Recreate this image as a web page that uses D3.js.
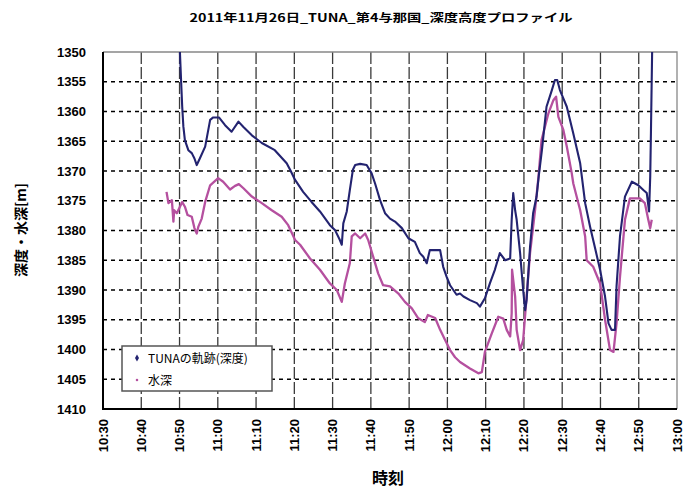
<!DOCTYPE html>
<html>
<head>
<meta charset="utf-8">
<script src="https://cdn.jsdelivr.net/npm/d3@7"></script>
<style>
  body { margin: 0; background: #fff; }
  text { font-family: "Liberation Sans", Arial, sans-serif; }
  .jp { font-family: "Noto Sans CJK JP", sans-serif; }
</style>
</head>
<body>
<svg width="686" height="489"></svg>
<script>
// time = minutes since 0:00, depth in m
const tunaTrack = [
  [650.1,1350.0],[650.4,1354.7],[650.7,1359.2],[651.0,1362.5],[651.4,1364.8],[652.3,1366.5],
  [653.2,1367.0],[653.9,1367.9],[654.5,1369.0],[655.3,1367.9],[656.7,1365.9],[658.0,1361.4],
  [658.8,1361.0],[660.3,1361.0],[661.9,1362.3],[663.6,1363.4],[665.4,1361.7],[666.7,1362.6],
  [668.9,1364.0],[671.5,1365.3],[674.9,1366.5],[678.0,1368.7],[678.9,1369.8],[680.2,1371.5],
  [682.3,1373.5],[684.5,1375.2],[686.7,1376.8],[689.3,1379.1],[690.6,1379.9],[691.9,1381.6],
  [692.4,1382.4],[692.8,1378.8],[693.7,1376.8],[694.5,1373.2],[695.3,1369.8],[695.9,1369.0],
  [697.2,1368.8],[698.9,1369.0],[700.2,1370.4],[701.1,1372.1],[702.4,1374.9],[703.7,1377.1],
  [705.0,1378.0],[706.3,1378.5],[708.1,1379.6],[709.8,1381.3],[711.5,1381.9],[712.8,1383.8],
  [713.7,1384.4],[714.6,1385.5],[715.4,1383.3],[716.8,1383.3],[718.1,1383.3],[718.9,1386.1],
  [719.8,1387.8],[720.7,1389.2],[722.4,1390.8],[723.3,1390.6],[724.2,1391.1],[725.9,1391.7],
  [727.7,1392.2],[728.5,1392.8],[729.8,1391.4],[731.1,1388.9],[732.4,1386.6],[733.7,1383.8],
  [735.1,1385.0],[736.4,1384.7],[736.8,1378.2],[737.2,1373.7],[737.7,1376.6],[738.1,1378.2],
  [739.0,1383.8],[739.8,1390.0],[740.3,1393.4],[740.7,1391.7],[741.6,1382.7],[742.4,1377.1],
  [743.3,1374.3],[743.9,1370.7],[744.7,1366.5],[745.9,1359.2],[747.3,1356.4],[748.1,1354.7],
  [748.7,1354.7],[749.4,1356.4],[751.2,1359.2],[752.9,1363.7],[754.7,1368.7],[756.0,1375.4],
  [757.3,1379.4],[758.6,1383.0],[759.9,1386.6],[761.2,1391.1],[762.1,1395.6],[762.9,1396.7],
  [763.8,1396.7],[764.2,1389.4],[765.1,1381.0],[766.4,1374.3],[768.2,1371.8],[769.9,1372.4],
  [771.2,1373.2],[772.1,1373.7],[772.7,1376.8],[773.0,1371.0],[773.2,1363.1],[773.5,1350.0]
];

const seaDepth = [
  [646.6,1373.5],[647.1,1375.4],[648.0,1374.9],[648.4,1378.5],[648.6,1376.6],[649.3,1377.1],
  [650.1,1376.0],[650.7,1375.2],[651.4,1376.0],[652.1,1377.4],[653.2,1377.7],[653.9,1379.6],
  [654.5,1380.5],[654.9,1379.4],[655.8,1378.0],[656.7,1375.2],[658.0,1372.4],[660.1,1371.2],
  [661.4,1371.8],[663.2,1373.1],[664.5,1372.5],[665.5,1372.2],[666.7,1372.9],[668.9,1374.3],
  [671.5,1375.4],[674.1,1376.6],[676.7,1377.7],[678.4,1379.1],[680.2,1381.6],[681.5,1382.4],
  [684.1,1384.7],[686.7,1386.6],[689.3,1388.9],[691.1,1390.0],[692.4,1392.0],[693.2,1388.9],
  [694.5,1385.5],[695.0,1381.0],[695.9,1380.5],[697.2,1381.3],[698.5,1380.5],[699.3,1381.6],
  [700.6,1384.4],[701.9,1387.2],[703.2,1389.2],[705.0,1389.4],[707.2,1390.6],[708.9,1392.0],
  [710.7,1393.1],[712.3,1394.7],[714.1,1395.4],[714.9,1394.2],[716.8,1394.7],[718.1,1396.7],
  [719.4,1398.4],[720.7,1400.1],[722.0,1401.3],[723.3,1402.1],[725.9,1403.2],[728.1,1404.0],
  [729.0,1403.8],[729.8,1400.4],[731.6,1397.3],[733.3,1394.5],[734.6,1394.8],[735.5,1396.7],
  [736.4,1397.8],[736.8,1393.9],[736.9,1386.6],[737.2,1388.3],[737.7,1391.1],[738.1,1396.7],
  [739.0,1400.1],[739.8,1398.4],[740.7,1391.1],[741.6,1383.8],[742.9,1376.6],[743.8,1371.0],
  [744.6,1364.8],[746.4,1360.3],[747.7,1358.1],[748.4,1357.5],[749.0,1360.9],[750.3,1363.1],
  [751.2,1365.9],[752.5,1370.4],[752.9,1372.1],[754.7,1376.6],[756.0,1381.0],[756.4,1385.0],
  [758.1,1386.1],[759.9,1388.9],[761.2,1395.0],[762.5,1400.1],[763.4,1400.4],[764.2,1395.6],
  [765.1,1387.8],[766.4,1378.2],[767.7,1374.6],[770.3,1374.6],[771.6,1375.4],[772.5,1378.2],
  [773.0,1379.6],[773.4,1378.2]
];

const timeTicks = d3.range(630, 781, 10);
const depthTicks = d3.range(1350, 1411, 5);
const title = "2011年11月26日_TUNA_第4与那国_深度高度プロファイル";
const legendNames = ["TUNAの軌跡(深度)", "水深"];
const colors = ["#232370", "#b5509f"];

var svg = d3.select("svg");
const pLeft = 103, pRight = 677, pTop = 52, pBottom = 409;

var x = d3.scaleLinear().domain([630, 780]).range([pLeft, pRight]);
var y = d3.scaleLinear().domain([1350, 1410]).range([pTop, pBottom]);

const fmtTime = m => Math.floor(m / 60) + ":" + String(m % 60).padStart(2, "0");

// horizontal grid (dashed black)
svg.append("g").selectAll("line")
    .data(depthTicks.slice(1, -1))
    .enter().append("line")
    .attr("x1", pLeft).attr("x2", pRight)
    .attr("y1", d => y(d)).attr("y2", d => y(d))
    .attr("stroke", "#000")
    .attr("stroke-width", 1.3)
    .attr("stroke-dasharray", "4,4");

// vertical grid
svg.append("g").selectAll("line")
    .data(timeTicks.slice(1, -1))
    .enter().append("line")
    .attr("x1", d => x(d)).attr("x2", d => x(d))
    .attr("y1", pTop).attr("y2", pBottom)
    .attr("stroke", "#3a3a3a")
    .attr("stroke-width", 1.3)
    .attr("stroke-dasharray", "12,3");

// frame
svg.append("path")
    .attr("d", `M${pLeft},${pTop}H${pRight}V${pBottom}`)
    .attr("fill", "none").attr("stroke", "#888").attr("stroke-width", 1.3);
svg.append("path")
    .attr("d", `M${pLeft},${pTop}V${pBottom}H${pRight}`)
    .attr("fill", "none").attr("stroke", "#000").attr("stroke-width", 2);

// clip for the series
svg.append("clipPath").attr("id", "plot")
    .append("rect").attr("x", pLeft).attr("y", pTop)
    .attr("width", pRight - pLeft).attr("height", pBottom - pTop);

var line = d3.line().x(d => x(d[0])).y(d => y(d[1]));

svg.append("path")
    .datum(seaDepth)
    .attr("clip-path", "url(#plot)")
    .attr("fill", "none")
    .attr("stroke", colors[1])
    .attr("stroke-width", 2.3)
    .attr("stroke-linejoin", "round")
    .attr("d", line);

svg.append("path")
    .datum(tunaTrack)
    .attr("clip-path", "url(#plot)")
    .attr("fill", "none")
    .attr("stroke", colors[0])
    .attr("stroke-width", 2.1)
    .attr("stroke-linejoin", "round")
    .attr("d", line);

// y tick labels
svg.append("g").selectAll("text")
    .data(depthTicks)
    .enter().append("text")
    .attr("x", 86)
    .attr("y", d => y(d) + 4.5)
    .attr("text-anchor", "end")
    .attr("font-size", 13)
    .attr("font-weight", "bold")
    .text(d => d);

// x tick labels, rotated
svg.append("g").selectAll("text")
    .data(timeTicks)
    .enter().append("text")
    .attr("transform", d => `translate(${x(d) + 4.5},419) rotate(-90)`)
    .attr("text-anchor", "end")
    .attr("font-size", 13)
    .attr("font-weight", "bold")
    .text(d => fmtTime(d));

// titles
svg.append("text")
    .attr("class", "jp")
    .attr("x", 381).attr("y", 22)
    .attr("text-anchor", "middle")
    .attr("font-size", 11)
    .attr("font-weight", "bold")
    .attr("textLength", 383)
    .attr("lengthAdjust", "spacingAndGlyphs")
    .text(title);

svg.append("text")
    .attr("class", "jp")
    .attr("transform", "translate(26,230) rotate(-90)")
    .attr("text-anchor", "middle")
    .attr("font-size", 14)
    .attr("font-weight", "bold")
    .text("深度・水深[m]");

svg.append("text")
    .attr("class", "jp")
    .attr("x", 388).attr("y", 484)
    .attr("text-anchor", "middle")
    .attr("font-size", 16)
    .attr("font-weight", "bold")
    .text("時刻");

// legend
const legend = svg.append("g").attr("transform", "translate(122,346)");
legend.append("rect")
    .attr("width", 150).attr("height", 45)
    .attr("fill", "#fff").attr("stroke", "#555").attr("stroke-width", 1.5);

const items = legend.selectAll("g.item")
    .data(legendNames)
    .enter().append("g")
    .attr("transform", (d, i) => `translate(15,${12 + i * 22})`);
items.append("path")
    .attr("d", (d, i) => i === 0 ? d3.symbol(d3.symbolDiamond, 14)() : d3.symbol(d3.symbolSquare, 5)())
    .attr("fill", (d, i) => colors[i]);
items.append("text")
    .attr("class", "jp")
    .attr("x", 11).attr("y", 4.5)
    .attr("font-size", 12)
    .text(d => d);
</script>
</body>
</html>
